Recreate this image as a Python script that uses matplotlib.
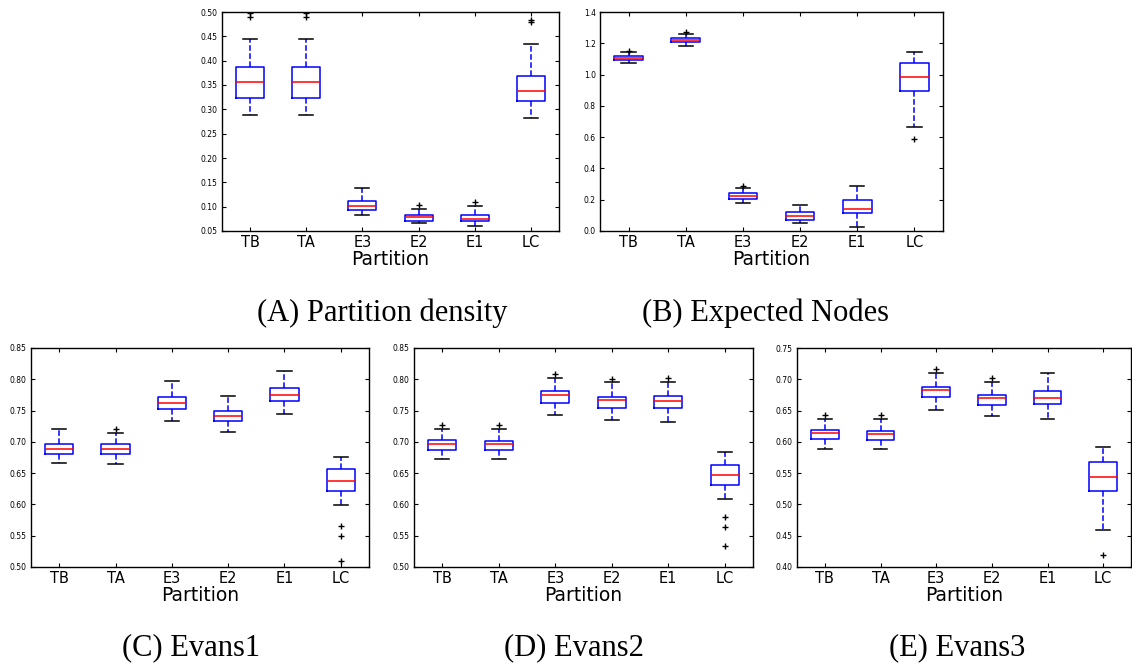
import numpy as np
import matplotlib
matplotlib.use('Agg')
import matplotlib.pyplot as plt

labels = ['TB', 'TA', 'E3', 'E2', 'E1', 'LC']

# (A) Partition density: whislo, q1, med, q3, whishi
a_whislo = [0.288, 0.288, 0.083, 0.067, 0.060, 0.282]
a_q1 = [0.324, 0.324, 0.0925, 0.071, 0.070, 0.317]
a_med = [0.356, 0.356, 0.102, 0.079, 0.074, 0.338]
a_q3 = [0.387, 0.387, 0.112, 0.083, 0.0836, 0.369]
a_whishi = [0.444, 0.444, 0.139, 0.095, 0.102, 0.435]
a_fliers = [[0.497, 0.490], [0.497, 0.490], [], [0.104], [0.110], [0.484, 0.479]]

# (B) Expected Nodes
b_whislo = [1.073, 1.180, 0.177, 0.049, 0.028, 0.666]
b_q1 = [1.093, 1.206, 0.207, 0.068, 0.113, 0.898]
b_med = [1.105, 1.221, 0.224, 0.094, 0.141, 0.986]
b_q3 = [1.118, 1.234, 0.241, 0.120, 0.196, 1.076]
b_whishi = [1.144, 1.261, 0.275, 0.169, 0.290, 1.144]
b_fliers = [[1.148], [1.272], [0.290], [], [], [0.589]]

# (C) Evans1
c_whislo = [0.6657, 0.6646, 0.7328, 0.7152, 0.745, 0.5991]
c_q1 = [0.681, 0.6806, 0.753, 0.7333, 0.7658, 0.622]
c_med = [0.6886, 0.688, 0.7621, 0.7408, 0.7749, 0.638]
c_q3 = [0.6966, 0.696, 0.7717, 0.7498, 0.786, 0.6566]
c_whishi = [0.7205, 0.714, 0.7967, 0.7738, 0.8138, 0.6763]
c_fliers = [[], [0.7205], [], [], [], [0.566, 0.549, 0.509]]

# (D) Evans2
d_whislo = [0.6731, 0.672, 0.7429, 0.7355, 0.7312, 0.6082]
d_q1 = [0.6875, 0.687, 0.7626, 0.7546, 0.7541, 0.6316]
d_med = [0.6971, 0.6966, 0.7743, 0.7669, 0.7648, 0.6465]
d_q3 = [0.7024, 0.7014, 0.7807, 0.7717, 0.7733, 0.6635]
d_whishi = [0.7205, 0.72, 0.802, 0.7951, 0.7951, 0.6843]
d_fliers = [[0.727], [0.7264], [0.8084], [0.801], [0.8026], [0.5799, 0.5633, 0.5335]]

# (E) Evans3
e_whislo = [0.5891, 0.588, 0.6509, 0.6413, 0.636, 0.4592]
e_q1 = [0.6045, 0.603, 0.6717, 0.6584, 0.6605, 0.522]
e_med = [0.6136, 0.6125, 0.6829, 0.6701, 0.6706, 0.5438]
e_q3 = [0.6184, 0.6173, 0.6882, 0.6743, 0.6818, 0.5673]
e_whishi = [0.6365, 0.636, 0.7095, 0.6962, 0.7095, 0.5918]
e_fliers = [[0.6429], [0.6424], [0.7159], [0.7015], [], [0.4198]]

panels = [
    ('A', (a_whislo, a_q1, a_med, a_q3, a_whishi, a_fliers), (0.05, 0.50), np.arange(0.05, 0.501, 0.05), '%.2f'),
    ('B', (b_whislo, b_q1, b_med, b_q3, b_whishi, b_fliers), (0.0, 1.4), np.arange(0.0, 1.41, 0.2), '%.1f'),
    ('C', (c_whislo, c_q1, c_med, c_q3, c_whishi, c_fliers), (0.50, 0.85), np.arange(0.50, 0.851, 0.05), '%.2f'),
    ('D', (d_whislo, d_q1, d_med, d_q3, d_whishi, d_fliers), (0.50, 0.85), np.arange(0.50, 0.851, 0.05), '%.2f'),
    ('E', (e_whislo, e_q1, e_med, e_q3, e_whishi, e_fliers), (0.40, 0.75), np.arange(0.40, 0.751, 0.05), '%.2f'),
]

W, H = 1132, 666
# axes rectangles in pixels: left, top, width, height
rects = {
    'A': (222, 12, 337, 219),
    'B': (600, 12, 343, 219),
    'C': (31, 348, 338, 219),
    'D': (414, 348, 339, 219),
    'E': (797, 348, 334, 219),
}

captions = [
    ('(A) Partition density', 382, 313),
    ('(B) Expected Nodes', 765, 313),
    ('(C) Evans1', 191, 648),
    ('(D) Evans2', 574, 648),
    ('(E) Evans3', 957, 648),
]

fig = plt.figure(figsize=(W / 100, H / 100), dpi=100)

for key, data, ylim, yticks, fmt in panels:
    l, t, w, h = rects[key]
    ax = fig.add_axes([l / W, 1 - (t + h) / H, w / W, h / H])
    whislo, q1, med, q3, whishi, fliers = data
    stats = []
    for i in range(len(labels)):
        stats.append({'label': labels[i], 'whislo': whislo[i], 'q1': q1[i], 'med': med[i],
                      'q3': q3[i], 'whishi': whishi[i], 'fliers': fliers[i]})
    ax.bxp(stats, widths=0.5, showfliers=True,
           boxprops=dict(color='#0000ff', linewidth=1.1),
           whiskerprops=dict(color='#0000ff', linestyle='--', linewidth=1.1),
           capprops=dict(color='black', linewidth=1.1),
           medianprops=dict(color='#ff0000', linewidth=1.1),
           flierprops=dict(marker='+', markeredgecolor='black', markersize=4, markeredgewidth=1.0, linestyle='none'))
    ax.set_xlim(0.5, 6.5)
    ax.set_ylim(*ylim)
    ax.set_yticks(yticks)
    ax.set_yticklabels([fmt % v for v in yticks])
    ax.tick_params(axis='y', labelsize=5.5, direction='in', length=3, right=True, pad=3)
    ax.tick_params(axis='x', labelsize=10.5, direction='in', length=3, top=True, pad=3)
    ax.set_xlabel('Partition', fontsize=13.5, labelpad=0)
    for s in ax.spines.values():
        s.set_linewidth(1.0)

for txt, x, y in captions:
    fig.text(x / W, 1 - y / H, txt, ha='center', va='center', fontsize=22,
             family='Liberation Serif')

fig.savefig('out.png', dpi=100)
